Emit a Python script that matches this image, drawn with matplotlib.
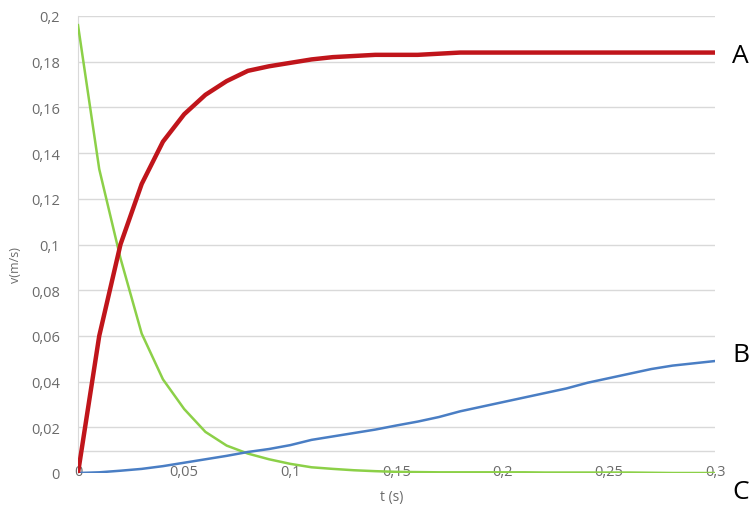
import matplotlib.pyplot as plt
from matplotlib.ticker import FuncFormatter

# time axis (s), one sample every 0.01 s
t = [i / 100 for i in range(31)]

# curve A (red)
v_a = [0, 0.060, 0.100, 0.1265, 0.145, 0.157, 0.1655, 0.1715, 0.176, 0.178,
       0.1795, 0.181, 0.182, 0.1825, 0.183, 0.183, 0.183, 0.1835, 0.184, 0.184,
       0.184, 0.184, 0.184, 0.184, 0.184, 0.184, 0.184, 0.184, 0.184, 0.184, 0.184]
# curve B (blue)
v_b = [0, 0.0003, 0.001, 0.0018, 0.003, 0.0045, 0.006, 0.0075, 0.0092, 0.0105,
       0.0122, 0.0145, 0.016, 0.0175, 0.019, 0.0208, 0.0225, 0.0245, 0.027, 0.029,
       0.031, 0.033, 0.035, 0.037, 0.0395, 0.0415, 0.0435, 0.0455, 0.047, 0.048, 0.049]
# curve C (green)
v_c = [0.196, 0.133, 0.094, 0.061, 0.041, 0.028, 0.018, 0.012, 0.0085, 0.006,
       0.004, 0.0025, 0.0018, 0.0012, 0.0008, 0.0005, 0.0004, 0.0003, 0.0003, 0.0003,
       0.0003, 0.0003, 0.0002, 0.0002, 0.0002, 0.0002, 0.0002, 0.0001, 0, 0, 0]

y_ticks = [0, 0.02, 0.04, 0.06, 0.08, 0.1, 0.12, 0.14, 0.16, 0.18, 0.2]
x_ticks = [0, 0.05, 0.1, 0.15, 0.2, 0.25, 0.3]

plt.rcParams['font.family'] = ['Open Sans', 'DejaVu Sans']

fig = plt.figure(figsize=(7.55, 5.06), dpi=100)
ax = fig.add_axes([78 / 755, 1 - 474 / 506, (715 - 78) / 755, (474 - 17) / 506])

grid_c = '#d9d9d9'
for y in y_ticks[1:]:
    ax.axhline(y, color=grid_c, lw=1, zorder=0)
ax.axhline(0.0096, color=grid_c, lw=1, zorder=0)

ax.plot(t, v_c, color='#8cd048', lw=1.8, zorder=3)
ax.plot(t, v_b, color='#4a7ec4', lw=1.8, zorder=3)
ax.plot(t, v_a, color='#c0151b', lw=3.2, zorder=4)

ax.set_xlim(0, 0.3)
ax.set_ylim(0, 0.2)
for s in ['top', 'right', 'bottom']:
    ax.spines[s].set_visible(False)
ax.spines['left'].set_color(grid_c)

fmt = FuncFormatter(lambda v, p: ('%g' % round(v, 3)).replace('.', ','))
ax.set_yticks(y_ticks)
ax.set_xticks(x_ticks)
ax.yaxis.set_major_formatter(fmt)
ax.xaxis.set_major_formatter(fmt)
ax.tick_params(axis='y', length=0, pad=13, labelsize=10.5, labelcolor='#6b6b6b')
ax.tick_params(axis='x', length=0, pad=-6.5, labelsize=10.5, labelcolor='#6b6b6b')

ax.set_ylabel('v(m/s)', fontsize=9, color='#6b6b6b')
ax.yaxis.set_label_coords(-0.088, 0.457)
ax.set_xlabel('t (s)', fontsize=10, color='#6b6b6b')
ax.xaxis.set_label_coords(0.492, -0.035)

for name, y in [('A', v_a[-1] - 0.0015), ('B', v_b[-1] + 0.003), ('C', -0.008)]:
    ax.text(1.027, y, name, transform=ax.get_yaxis_transform(), fontsize=19,
            va='center', ha='left', color='black', clip_on=False)

fig.savefig('out.png', dpi=100)
